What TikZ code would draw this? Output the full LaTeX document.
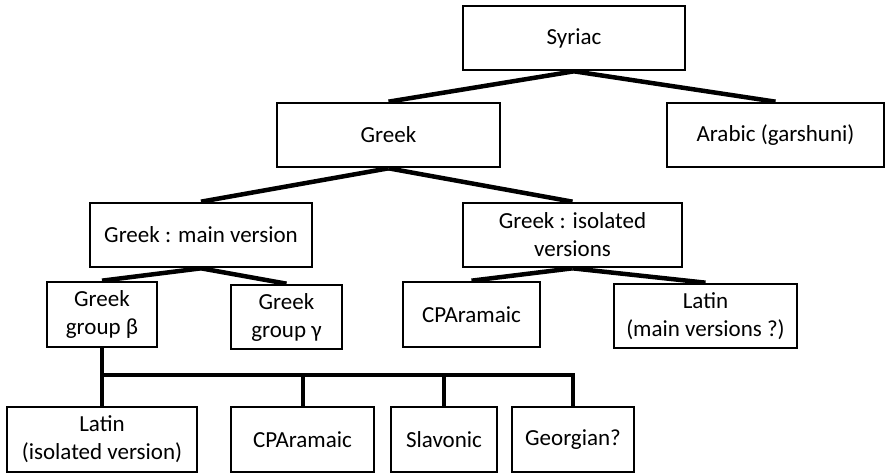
\documentclass[tikz,border=0pt]{standalone}
\usepackage{fontspec}
\setmainfont{Carlito}
\begin{document}
\begin{tikzpicture}[x=1pt,y=-1pt,
  box/.style={draw=black, line width=2.6pt, fill=white, inner sep=0pt, align=center,
    font=\fontsize{23}{28}\selectfont},
  link/.style={draw=black, line width=4.5pt},
  bar/.style={draw=black, line width=4pt, line join=miter}]
\useasboundingbox (0,0) rectangle (886,473);
\fill[white] (0,0) rectangle (886,473);
% row 1
\node[box, minimum width=222pt, minimum height=64pt] (syr) at (574,38) {Syriac};
% row 2
\node[box, minimum width=223pt, minimum height=64pt] (greek) at (388.5,135) {Greek};
\node[box, minimum width=217pt, minimum height=64pt] (arab) at (775.5,135) {Arabic (garshuni)};
% row 3
\node[box, minimum width=222pt, minimum height=64pt] (main) at (201,235) {Greek : main version};
\node[box, minimum width=219pt, minimum height=64pt] (iso) at (572.5,235) {Greek : isolated\\versions};
% row 4
\node[box, minimum width=110pt, minimum height=65pt] (beta) at (102,314.5) {Greek\\group β};
\node[box, minimum width=111pt, minimum height=64pt] (gamma) at (286.5,317) {Greek\\group γ};
\node[box, minimum width=137pt, minimum height=65pt] (cpa1) at (471.5,314.5) {CPAramaic};
\node[box, minimum width=183pt, minimum height=64pt] (latm) at (705.5,316) {Latin\\(main versions ?)};
% row 5
\node[box, minimum width=190pt, minimum height=65pt] (latiso) at (102,439.5) {Latin\\(isolated version)};
\node[box, minimum width=143pt, minimum height=65pt] (cpa2) at (302.5,439.5) {CPAramaic};
\node[box, minimum width=106pt, minimum height=65pt] (slav) at (444,439.5) {Slavonic};
\node[box, minimum width=122pt, minimum height=65pt] (geo) at (573,439.5) {Georgian?};
\coordinate (bus) at (0,375);
% connectors
\draw[link] (syr.south) -- (greek.north);
\draw[link] (syr.south) -- (arab.north);
\draw[link] (greek.south) -- (main.north);
\draw[link] (greek.south) -- (iso.north);
\draw[link] (main.south) -- (beta.north);
\draw[link] (main.south) -- (gamma.north);
\draw[link] (iso.south) -- (cpa1.north);
\draw[link] (iso.south) -- (latm.north);
\draw[bar] (beta.south) -- (latiso.north);
\draw[bar] (beta.south |- bus) -- (geo.north |- bus) -- (geo.north);
\draw[bar] (cpa2.north |- bus) -- (cpa2.north);
\draw[bar] (slav.north |- bus) -- (slav.north);
\end{tikzpicture}
\end{document}
